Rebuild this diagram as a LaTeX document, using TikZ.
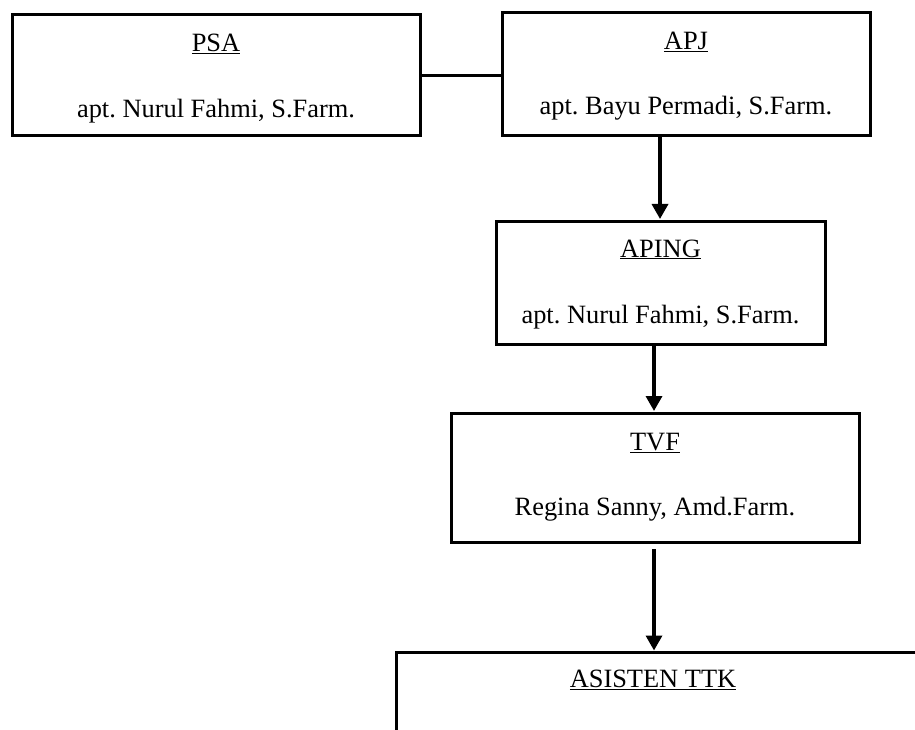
\documentclass[tikz,border=0pt]{standalone}
\usepackage{fontspec}
\setmainfont{Liberation Serif}
\usetikzlibrary{arrows.meta}
\frenchspacing
\begin{document}
\begin{tikzpicture}[x=1pt,y=-1pt,
  orgbox/.style={draw=black,line width=3pt,rectangle,inner sep=0pt},
  lbl/.style={anchor=base,inner sep=0pt,font=\fontsize{26.4}{31}\selectfont},
  conn/.style={line width=3.4pt},
  arr/.style={line width=3.4pt,-{Triangle[length=15pt,width=16pt]}}]
\clip (0,0) rectangle (915,730);
\fill[white] (0,0) rectangle (915,730);
% boxes
\node[orgbox,minimum width=408pt,minimum height=121pt] (psa) at (216,75.5) {};
\node[orgbox,minimum width=368pt,minimum height=123pt] (apj) at (686,74.5) {};
\node[orgbox,minimum width=329pt,minimum height=123pt] (aping) at (660.5,282.5) {};
\node[orgbox,minimum width=408pt,minimum height=129pt] (tvf) at (655,477.5) {};
\node[orgbox,minimum width=600pt,minimum height=200pt] (ast) at (696,752) {};
% texts
\node[lbl] (psat) at (216,52) {\underline{PSA}};
\node[lbl] (psan) at (216,118) {apt. Nurul Fahmi, S.Farm.};
\node[lbl] (apjt) at (686,50) {\underline{APJ}};
\node[lbl] (apjn) at (686,115) {apt. Bayu Permadi, S.Farm.};
\node[lbl] (apingt) at (660.5,257) {\underline{APING}};
\node[lbl] (apingn) at (660.5,323) {apt. Nurul Fahmi, S.Farm.};
\node[lbl] (tvft) at (655,450) {\underline{TVF}};
\node[lbl] (tvfn) at (655,515) {Regina Sanny, Amd.Farm.};
\node[lbl] (astt) at (653,687.5) {\underline{ASISTEN TTK}};
% connectors
\coordinate (a1) at (660,137.5);
\coordinate (a2) at (660,219);
\coordinate (b1) at (654,345.5);
\coordinate (b2) at (654,411);
\coordinate (c1) at (654,549);
\coordinate (c2) at (654,650.5);
\draw[conn] (psa.east) -- (apj.west |- psa.east);
\draw[arr] (a1) -- (a2);
\draw[arr] (b1) -- (b2);
\draw[arr] (c1) -- (c2);
\end{tikzpicture}
\end{document}
